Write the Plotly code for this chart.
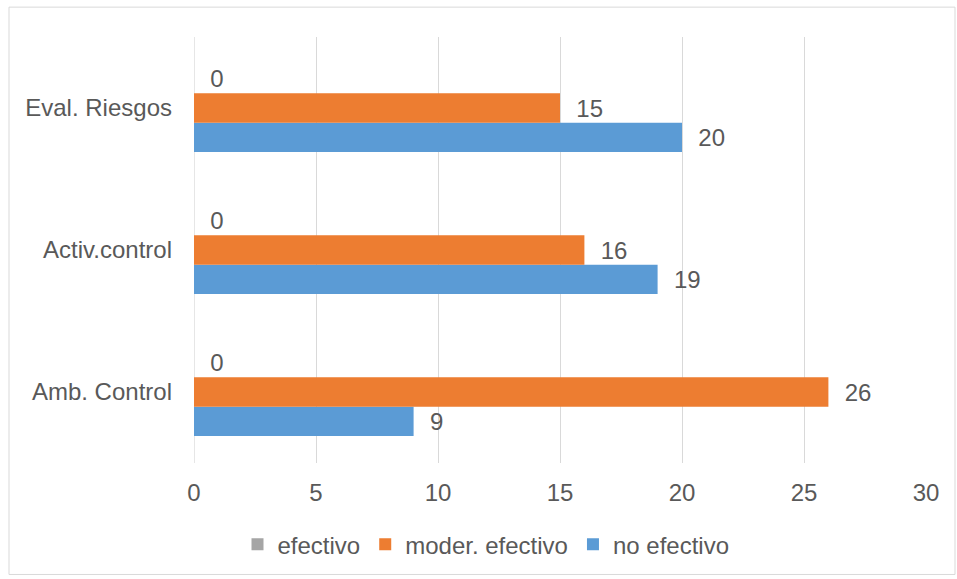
import plotly.graph_objects as go

categories = ["Amb. Control", "Activ.control", "Eval. Riesgos"]
no_efectivo = [9, 19, 20]
moder_efectivo = [26, 16, 15]
efectivo = [0, 0, 0]
x_ticks = [0, 5, 10, 15, 20, 25, 30]

W, H = 957, 579
L, R, T, B = 194, 31, 37, 114
pw, ph = W - L - R, H - T - B

def px_x(x):
    return (x - L) / pw

def px_y(y):
    return (H - B - y) / ph

txt = "#595959"
font = dict(family="Liberation Sans, Arial, sans-serif", size=24, color=txt)

fig = go.Figure()
for name, vals, col in [("no efectivo", no_efectivo, "#5B9BD5"),
                        ("moder. efectivo", moder_efectivo, "#ED7D31"),
                        ("efectivo", efectivo, "#A5A5A5")]:
    fig.add_trace(go.Bar(
        y=categories, x=vals, name=name, orientation="h",
        marker=dict(color=col, line=dict(width=0)),
        texttemplate="  %{x}", textposition="outside",
        textfont=font, cliponaxis=False,
    ))

fig.update_layout(
    width=W, height=H,
    margin=dict(l=L, r=R, t=T, b=B),
    barmode="group", bargap=0.38, bargroupgap=0,
    paper_bgcolor="white", plot_bgcolor="white",
    font=font,
    legend=dict(orientation="h", traceorder="reversed",
                x=px_x(486), xanchor="center", y=px_y(547), yanchor="middle",
                font=font, itemwidth=30),
    xaxis=dict(range=[0, 30], tickvals=x_ticks, showgrid=True,
               gridcolor="#D9D9D9", gridwidth=1.3, zeroline=False,
               showline=False, ticks="", ticklabelstandoff=13,
               tickfont=font, fixedrange=True),
    yaxis=dict(showgrid=False, zeroline=False, showline=False, ticks="",
               ticklabelstandoff=21, tickfont=font),
    shapes=[
        dict(type="line", xref="x", yref="paper", x0=0, x1=0, y0=0, y1=1,
             line=dict(color="#D9D9D9", width=1.3), layer="below"),
        dict(type="rect", xref="paper", yref="paper",
             x0=px_x(9), x1=px_x(955), y0=px_y(577), y1=px_y(7),
             line=dict(color="#D9D9D9", width=1), fillcolor="rgba(0,0,0,0)"),
    ],
)

fig.write_html("out.html")
